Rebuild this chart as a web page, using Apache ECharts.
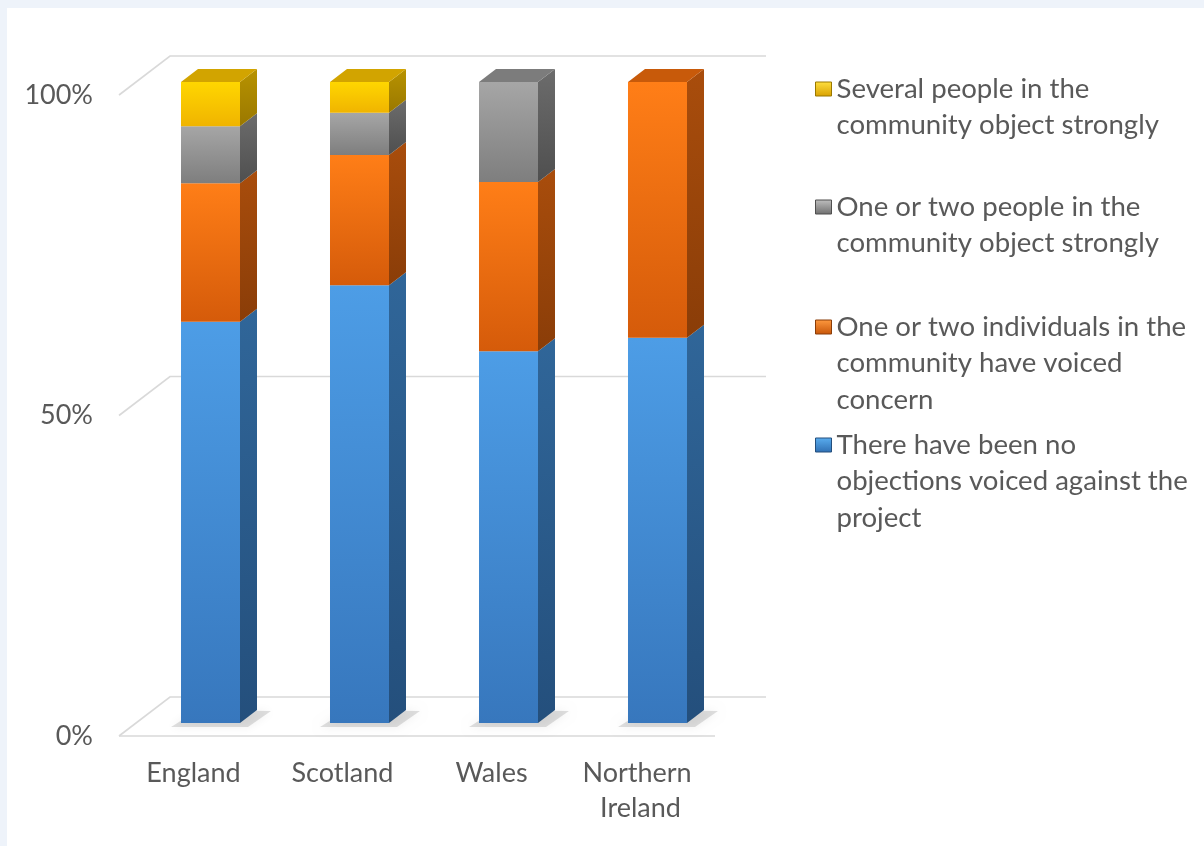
<!DOCTYPE html>
<html><head><meta charset="utf-8">
<script src="https://cdn.jsdelivr.net/npm/echarts@6/dist/echarts.min.js"></script>
<style>html,body{margin:0;padding:0;background:#eef3fa;}#c{width:1204px;height:846px;}</style>
</head><body><div id="c"></div>
<script>
// ---- data ----
const categories = ['England', 'Scotland', 'Wales', 'Northern Ireland'];
const seriesNames = [
  'There have been no objections voiced against the project',
  'One or two individuals in the community have voiced concern',
  'One or two people in the community object strongly',
  'Several people in the community object strongly'
];
const noObjections       = [62.6, 68.3, 58.0, 60.1];
const individualsConcern = [21.6, 20.3, 26.4, 39.9];
const oneOrTwoStrongly   = [8.9, 6.6, 15.6, 0];
const severalStrongly    = [6.9, 4.8, 0, 0];
const yTicks = [0, 50, 100];
const legendLines = [
  ['There have been no', 'objections voiced against the', 'project'],
  ['One or two individuals in the', 'community have voiced', 'concern'],
  ['One or two people in the', 'community object strongly'],
  ['Several people in the', 'community object strongly']
];

// ---- styles ----
const FONT = 'Lato';
const TXT = '#595959';
const DX = 17, DY = -13;           // one third of the 3D depth
const LH = 36.5;
const palette = [
  {front: ['#4d9de6', '#3777bd'], side: ['#306699', '#244f7c'], top: '#3a7fc4', legend: ['#5aaef0', '#2f6fb3']},
  {front: ['#ff7e17', '#d55b0a'], side: ['#a94d0c', '#8a3d08'], top: '#c85a0a', legend: ['#ff9a40', '#c75508']},
  {front: ['#a6a6a6', '#7e7e7e'], side: ['#6c6c6c', '#4f4f4f'], top: '#7c7c7c', legend: ['#c0c0c0', '#6e6e6e']},
  {front: ['#ffd600', '#f0b400'], side: ['#b89300', '#9a7800'], top: '#d2a400', legend: ['#ffe040', '#d8a000']}
];
const stacks = [noObjections, individualsConcern, oneOrTwoStrongly, severalStrongly];

function vgrad(c) {
  return new echarts.graphic.LinearGradient(0, 0, 0, 1, [{offset: 0, color: c[0]}, {offset: 1, color: c[1]}]);
}

function seriesData(k) {
  return categories.map((c, i) => {
    let base = 0;
    for (let j = 0; j < k; j++) base += stacks[j][i];
    return [i, base, base + stacks[k][i]];
  });
}
function isTopSeg(k, i) {
  for (let j = k + 1; j < stacks.length; j++) if (stacks[j][i] > 0) return false;
  return true;
}

function barRender(k) {
  return function (params, api) {
    const i = api.value(0), lo = api.value(1), hi = api.value(2);
    if (hi - lo <= 0) return null;
    const band = api.size([1, 0])[0];
    const w = band * 0.396;
    const pLo = api.coord([i, lo]), pHi = api.coord([i, hi]);
    const x0 = pLo[0] - w / 2 + DX, x1 = x0 + w;
    const yb = pLo[1] + DY, yt = pHi[1] + DY;
    const col = palette[k];
    const children = [];
    if (k === 0) {
      children.push({
        type: 'polygon',
        shape: {points: [[x0 - 10, yb + 4], [x1 + 8, yb + 4], [x1 + DX + 14, yb + DY + 1], [x0 + DX, yb + DY]]},
        style: {fill: 'rgba(0,0,0,0.12)', shadowBlur: 10, shadowColor: 'rgba(0,0,0,0.5)'},
        silent: true
      });
    }
    children.push({
      type: 'polygon',
      shape: {points: [[x1, yb], [x1 + DX, yb + DY], [x1 + DX, yt + DY], [x1, yt]]},
      style: {fill: vgrad(col.side)}
    });
    if (isTopSeg(k, i)) {
      children.push({
        type: 'polygon',
        shape: {points: [[x0, yt], [x1, yt], [x1 + DX, yt + DY], [x0 + DX, yt + DY]]},
        style: {fill: col.top}
      });
    }
    children.push({
      type: 'rect',
      shape: {x: x0, y: yt, width: w, height: yb - yt},
      style: {fill: vgrad(col.front)}
    });
    return {type: 'group', children: children};
  };
}

function gridRender(params, api) {
  const cs = params.coordSys;
  const y = api.coord([0, api.value(1)])[1];
  const pts = [[cs.x, y], [cs.x + 3 * DX, y + 3 * DY], [cs.x + cs.width + 3 * DX, y + 3 * DY]];
  const ch = [{type: 'polyline', shape: {points: pts}, style: {stroke: '#d9d9d9', lineWidth: 1.6, fill: null}}];
  if (api.value(1) === 0) {
    ch.push({type: 'line', shape: {x1: cs.x, y1: y, x2: cs.x + cs.width, y2: y}, style: {stroke: '#d9d9d9', lineWidth: 1.6}});
  }
  return {type: 'group', children: ch};
}

const series = [{
  type: 'custom', name: 'grid', z: 1, silent: true,
  renderItem: gridRender,
  encode: {x: 0, y: 1},
  data: yTicks.map(v => [0, v])
}];
for (let k = 0; k < 4; k++) {
  series.push({
    type: 'custom', name: seriesNames[k], z: 2 + k,
    renderItem: barRender(k),
    itemStyle: {color: palette[k].legend[1]},
    encode: {x: 0, y: [1, 2]},
    data: seriesData(k)
  });
}

// first text line centre of each legend entry (top to bottom)
const legendFirstLine = [88, 206, 326, 444];
const legends = [3, 2, 1, 0].map((k, n) => {
  const lines = legendLines[k];
  const spacer = (lines.length - 1) * LH;   // keeps the icon beside the first line
  return {
    left: 815, top: legendFirstLine[n] - LH / 2 - spacer / 2, padding: 0,
    orient: 'vertical', itemWidth: 16, itemHeight: 14, icon: 'rect',
    data: [{name: seriesNames[k], itemStyle: {color: vgrad(palette[k].legend), borderColor: palette[k].side[1], borderWidth: 1}}],
    formatter: () => '{sp| }\n' + lines.map(s => '{t|' + s + '}').join('\n'),
    textStyle: {
      color: TXT, fontFamily: FONT, fontSize: 27.6,
      rich: {
        sp: {lineHeight: spacer, fontSize: 2},
        t: {color: TXT, fontFamily: FONT, fontSize: 27.6, lineHeight: LH}
      }
    }
  };
});

const chart = echarts.init(document.getElementById('c'));
chart.setOption({
  animation: false,
  graphic: [{type: 'rect', left: 7, top: 8, shape: {width: 1197, height: 838}, style: {fill: '#ffffff'}, z: -10, silent: true}],
  grid: {left: 119, right: 489, top: 95, bottom: 110},
  xAxis: {
    type: 'category', data: categories,
    axisLine: {show: false}, axisTick: {show: false}, splitLine: {show: false},
    axisLabel: {color: TXT, fontFamily: FONT, fontSize: 27, lineHeight: 35, margin: 20, width: 140, overflow: 'break', interval: 0}
  },
  yAxis: {
    type: 'value', min: 0, max: 100, interval: 50,
    axisLine: {show: false}, axisTick: {show: false}, splitLine: {show: false},
    axisLabel: {color: TXT, fontFamily: FONT, fontSize: 27, margin: 26, formatter: '{value}%'}
  },
  legend: legends,
  series: series
});
</script></body></html>
